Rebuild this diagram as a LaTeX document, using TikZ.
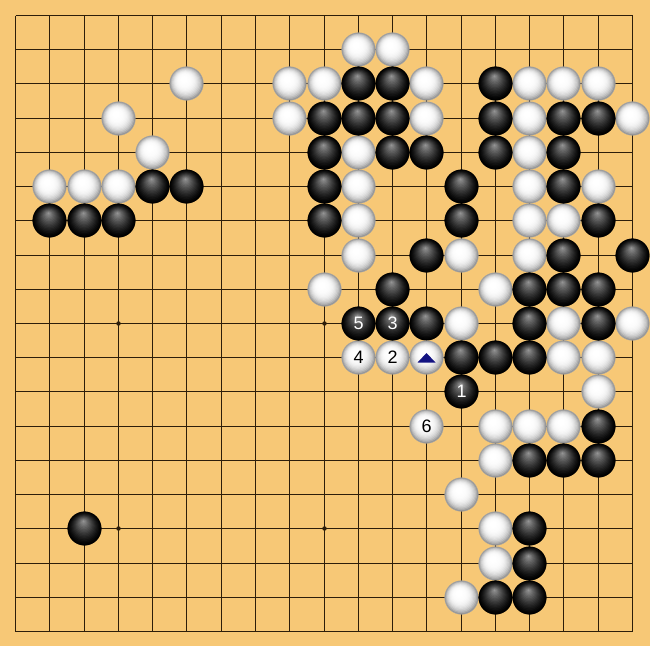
\documentclass[tikz,border=0pt]{standalone}
\usepackage{fontspec}
\newfontfamily\numfont{Liberation Sans}
\definecolor{board}{RGB}{247,200,118}
\definecolor{gridc}{RGB}{45,30,10}
\definecolor{marknavy}{RGB}{20,20,130}
\tikzset{
  stone/.style={circle,minimum size=33.5pt,inner sep=0pt,font=\numfont\fontsize{18}{18}\selectfont},
  wstone/.style={stone,draw=black!35,line width=0.4pt,text=black},
  bstone/.style={stone,draw=black,line width=0.4pt,text=white},
  gridline/.style={draw=gridc,line width=1.3pt},
  starpt/.style={circle,fill=gridc,minimum size=4.5pt,inner sep=0pt},
}
% grid position helpers (pixel-aligned)
\newcommand\gxy[2]{\pgfmathsetmacro\sx{round(15+#1*34.28)+0.5}\pgfmathsetmacro\sy{round(15+#2*34.22)+0.5}}
% \putstone{w|b}{name}{col}{row}{label}
\newcommand\putstone[5]{%
  \gxy{#3}{#4}%
  \begin{scope}[shift={(\sx,\sy)}]
  \if#1w
    \foreach \t [evaluate=\t as \col using {42*(1-\t)^4}] in {0,0.06,...,0.96}
      \fill[black!\col] ({-3*\t},{-5*\t}) circle ({16.9*(1-\t)});
  \else
    \foreach \t [evaluate=\t as \col using {100-62*\t^1.3}] in {0,0.06,...,0.96}
      \fill[black!\col] ({-1*\t},{-7.5*\t}) circle ({16.9*(1-\t)});
  \fi
  \end{scope}
  \node[#1stone] (#2) at (\sx,\sy) {#5};}
\begin{document}
\begin{tikzpicture}[x=1pt,y=-1pt]
\fill[board] (0,0) rectangle (650,646);
\useasboundingbox (0,0) rectangle (650,646);
\gxy{0}{0}\coordinate (tl) at (\sx,\sy);
\gxy{18}{18}\coordinate (br) at (\sx,\sy);
\foreach \i in {0,...,18}{
  \gxy{\i}{\i}
  \draw[gridline] (\sx,0 |- tl) -- (\sx,0 |- br);
  \draw[gridline] (tl |- 0,\sy) -- (br |- 0,\sy);
}
\foreach \c/\r in {3/9,9/9,3/15,9/15}{
  \gxy{\c}{\r}
  \node[starpt] (star-\c-\r) at (\sx,\sy) {};
}
% white stones
\foreach \c/\r in {10/1,11/1,5/2,8/2,9/2,12/2,15/2,16/2,17/2,
  3/3,8/3,12/3,15/3,18/3,4/4,10/4,15/4,1/5,2/5,3/5,10/5,15/5,17/5,
  10/6,15/6,16/6,10/7,13/7,15/7,9/8,14/8,13/9,16/9,18/9,
  16/10,17/10,17/11,14/12,15/12,16/12,14/13,13/14,14/15,14/16,13/17}
  \putstone{w}{w-\c-\r}{\c}{\r}{};
% black stones
\foreach \c/\r in {10/2,11/2,14/2,9/3,10/3,11/3,14/3,16/3,17/3,
  9/4,11/4,12/4,14/4,16/4,4/5,5/5,9/5,13/5,16/5,
  1/6,2/6,3/6,9/6,13/6,17/6,12/7,16/7,18/7,11/8,15/8,16/8,17/8,
  12/9,15/9,17/9,13/10,14/10,15/10,17/12,15/13,16/13,17/13,
  2/15,15/15,15/16,14/17,15/17}
  \putstone{b}{b-\c-\r}{\c}{\r}{};
% numbered stones
\putstone{b}{m1}{13}{11}{1}
\putstone{w}{m2}{11}{10}{2}
\putstone{b}{m3}{11}{9}{3}
\putstone{w}{m4}{10}{10}{4}
\putstone{b}{m5}{10}{9}{5}
\putstone{w}{m6}{12}{12}{6}
\putstone{w}{tri}{12}{10}{}
\fill[marknavy,shift={(tri.center)}] (-9,5) -- (9,5) -- (0,-4.5) -- cycle;
\end{tikzpicture}
\end{document}
